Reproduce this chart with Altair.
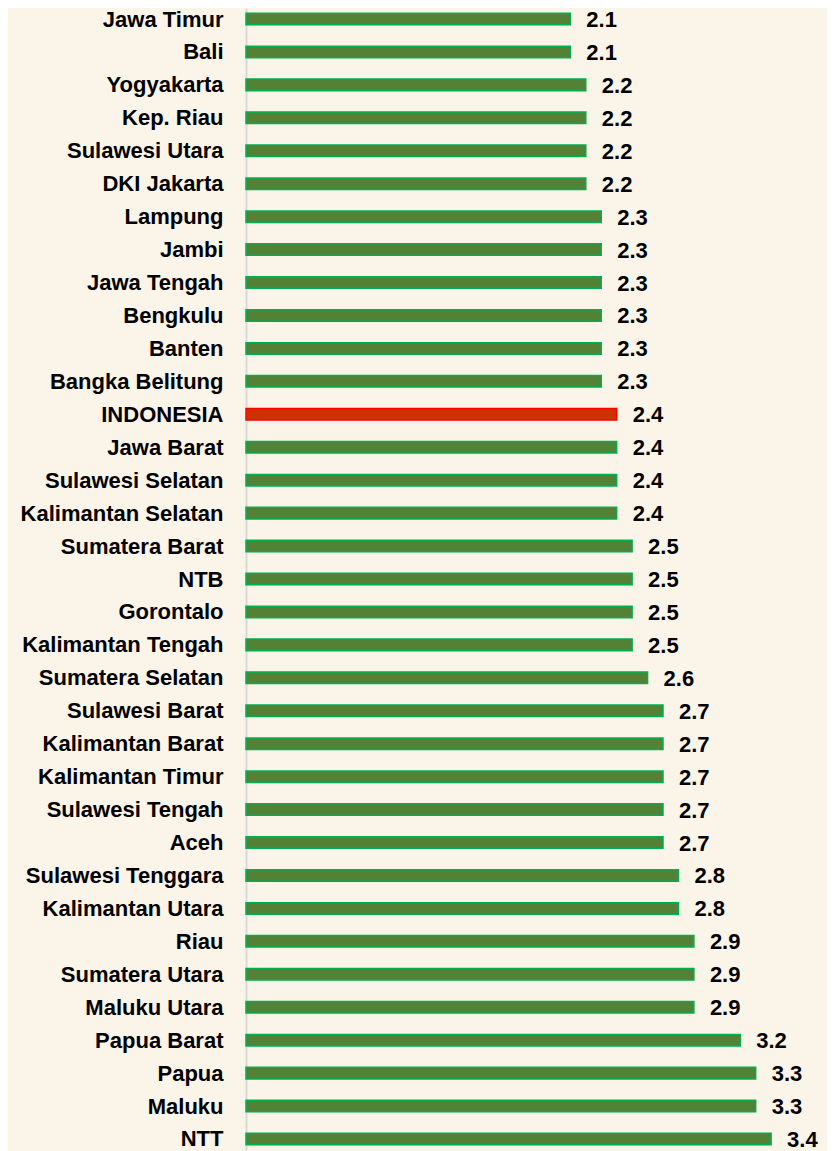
import altair as alt
import pandas as pd

NB = "\u00a0"
regions = ["Jawa Timur", "Bali" + NB, "Yogyakarta" + NB, "Kep. Riau" + NB + NB, "Sulawesi Utara",
           "DKI Jakarta" + NB, "Lampung" + NB, "Jambi" + NB, "Jawa Tengah", "Bengkulu" + NB,
           "Banten" + NB, "Bangka Belitung" + NB, "INDONESIA", "Jawa Barat", "Sulawesi Selatan",
           "Kalimantan Selatan", "Sumatera Barat", "NTB", "Gorontalo" + NB, "Kalimantan Tengah",
           "Sumatera Selatan", "Sulawesi Barat", "Kalimantan Barat", "Kalimantan Timur",
           "Sulawesi Tengah" + NB, "Aceh" + NB, "Sulawesi Tenggara" + NB, "Kalimantan Utara" + NB,
           "Riau" + NB, "Sumatera Utara" + NB, "Maluku Utara" + NB, "Papua Barat" + NB,
           "Papua" + NB, "Maluku" + NB, "NTT"]
values = [2.1, 2.1, 2.2, 2.2, 2.2, 2.2, 2.3, 2.3, 2.3, 2.3, 2.3, 2.3, 2.4, 2.4, 2.4, 2.4,
          2.5, 2.5, 2.5, 2.5, 2.6, 2.7, 2.7, 2.7, 2.7, 2.7, 2.8, 2.8, 2.9, 2.9, 2.9, 3.2,
          3.3, 3.3, 3.4]
highlight = ["INDONESIA"]

df = pd.DataFrame({"region": regions, "value": values})
df["kind"] = ["nat" if r.strip() in highlight else "prov" for r in regions]
df["label"] = [f"{v:.1f}" for v in values]

y = alt.Y("region:N", sort=None,
          scale=alt.Scale(paddingInner=0.65, paddingOuter=0.159),
          axis=alt.Axis(title=None, ticks=False, tickSize=0, grid=False,
                        domainColor="#D9D9D9", domainWidth=2,
                        labelFont="Liberation Sans", labelFontWeight="bold",
                        labelFontSize=22, labelColor="#000000", labelPadding=23,
                        labelLimit=400, labelOffset=0.5))
x = alt.X("value:Q", scale=alt.Scale(domain=[0, 3.6], nice=False, zero=True), axis=None)

bars = alt.Chart(df).mark_bar(strokeWidth=1.5).encode(
    y=y, x=x,
    color=alt.Color("kind:N", scale=alt.Scale(domain=["prov", "nat"], range=["#538135", "#CC3300"]), legend=None),
    stroke=alt.Stroke("kind:N", scale=alt.Scale(domain=["prov", "nat"], range=["#00B050", "#FF0000"]), legend=None),
)

texts = alt.Chart(df).mark_text(align="left", baseline="middle", dx=16, dy=1,
                                font="Liberation Sans", fontWeight="bold", fontSize=22,
                                color="#000000").encode(
    y=alt.Y("region:N", sort=None), x="value:Q", text="label:N")

chart = alt.layer(bars, texts).properties(
    width=556, height=1142, background="#FBF4E8",
    autosize=alt.AutoSizeParams(type="none"),
    padding={"left": 238, "top": 0, "right": 25, "bottom": 8},
).configure_view(stroke=None)

chart.save("out.html", embed_options={"renderer": "svg", "actions": False})
